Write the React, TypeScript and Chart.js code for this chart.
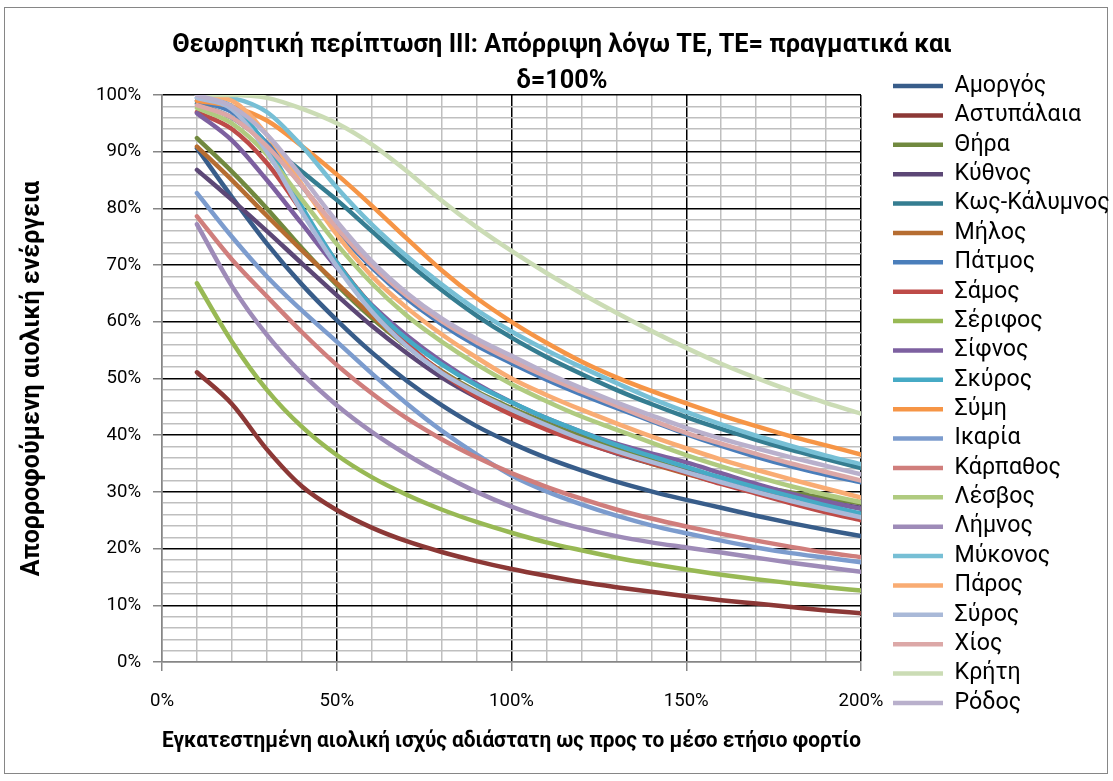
import { useEffect, useRef } from 'react';
import { Chart, registerables } from 'chart.js';

Chart.register(...registerables);

const FONT = 'Roboto, "Liberation Sans", sans-serif';

const chartTitle = ['Θεωρητική περίπτωση III: Απόρριψη λόγω ΤΕ, ΤΕ= πραγματικά και', 'δ=100%'];
const yTitle = 'Απορροφούμενη αιολική ενέργεια';
const xTitle = 'Εγκατεστημένη αιολική ισχύς αδιάστατη ως προς το μέσο ετήσιο φορτίο';

const xValues = [10, 20, 30, 40, 50, 60, 70, 80, 90, 100, 110, 120, 130, 140, 150, 160, 170, 180, 190, 200];
const xMajorTicks = [0, 50, 100, 150, 200];
const yMajorTicks = [0, 10, 20, 30, 40, 50, 60, 70, 80, 90, 100];

const seriesNames = [
  'Αμοργός', 'Αστυπάλαια', 'Θήρα', 'Κύθνος', 'Κως-Κάλυμνος', 'Μήλος', 'Πάτμος', 'Σάμος',
  'Σέριφος', 'Σίφνος', 'Σκύρος', 'Σύμη', 'Ικαρία', 'Κάρπαθος', 'Λέσβος', 'Λήμνος',
  'Μύκονος', 'Πάρος', 'Σύρος', 'Χίος', 'Κρήτη', 'Ρόδος',
];

const seriesColors = [
  '#385D8A', '#8C3836', '#71893F', '#5C4776', '#357D91', '#B66D31', '#4A7EBB', '#BE4B48',
  '#98B954', '#7D60A0', '#46AAC5', '#F69546', '#7C9CCE', '#D07E7C', '#B0CB80', '#9E8BB8',
  '#77BFD5', '#F9AC73', '#A9B9D8', '#DCA8A7', '#CBDCB5', '#B9B0CC',
];

const amorgos = [90.6, 82, 73.8, 66.6, 60.3, 54.6, 49.6, 45.3, 41.6, 38.6, 36, 33.8, 31.8, 30.1, 28.6, 27.2, 25.8, 24.5, 23.3, 22.2];
const astypalaia = [51.1, 45.5, 37.5, 31, 26.8, 23.7, 21.3, 19.4, 17.8, 16.4, 15.2, 14.1, 13.2, 12.4, 11.6, 10.9, 10.3, 9.7, 9.1, 8.6];
const thira = [92.4, 86.5, 80, 73, 66.5, 60.7, 55.7, 51.3, 47.7, 44.8, 42.2, 39.8, 37.6, 35.6, 33.7, 32.3, 31, 29.9, 28.9, 28];
const kythnos = [86.8, 81.5, 76, 70.3, 64.7, 59.3, 54.5, 50.2, 46.7, 43.8, 41.2, 38.9, 36.8, 35, 33.5, 32, 30.6, 29.3, 28.2, 27.2];
const kos = [98.5, 96, 91.5, 86.5, 81.5, 76, 70.6, 65.6, 61.1, 57.2, 53.8, 50.8, 48, 45.5, 43.2, 41.1, 39.2, 37.4, 35.8, 34.2];
const milos = [90.9, 85, 78.7, 72.6, 66.8, 61.1, 55.8, 51.2, 47.5, 44.5, 41.7, 39.3, 37, 35, 33.2, 31.5, 29.9, 28.4, 26.8, 25.3];
const patmos = [99, 97, 91.5, 84, 76.2, 69.6, 64.1, 59.6, 55.8, 52.7, 49.8, 47.2, 44.8, 42.5, 40.2, 38.1, 36.2, 34.5, 33, 31.7];
const samos = [97, 94, 88, 79.5, 70.5, 62.8, 56.3, 51, 46.8, 43.6, 41, 38.8, 36.9, 35.1, 33.3, 31.4, 29.7, 28, 26.4, 25];
const serifos = [66.8, 56.5, 48, 41.5, 36.5, 32.6, 29.5, 26.9, 24.7, 22.8, 21.1, 19.7, 18.4, 17.3, 16.3, 15.4, 14.6, 13.9, 13.2, 12.6];
const sifnos = [96.8, 92, 85, 77.3, 69.6, 63, 57.6, 53, 49.1, 45.8, 43, 40.6, 38.5, 36.8, 35.2, 33.3, 31.4, 29.7, 28.3, 27];
const skyros = [99.5, 98, 91, 80.3, 70.5, 62.8, 57, 52.5, 48.8, 45.8, 43, 40.6, 38.3, 36.3, 34.4, 32.5, 30.8, 29.2, 27.6, 26.2];
const symi = [99, 98, 95.5, 91, 86, 80.5, 74.7, 69.1, 64.2, 60, 56.3, 53, 50.2, 47.8, 45.6, 43.5, 41.6, 39.8, 38.2, 36.6];
const ikaria = [82.7, 75, 68, 62, 56.5, 50.9, 45.6, 40.8, 36.6, 32.9, 30.1, 27.8, 25.8, 24.1, 22.7, 21.4, 20.2, 19.2, 18.4, 17.6];
const karpathos = [78.6, 71, 64.5, 58.2, 52.4, 47.4, 43, 39.3, 36.1, 33.3, 30.9, 28.8, 26.9, 25.3, 23.9, 22.6, 21.4, 20.3, 19.3, 18.5];
const lesvos = [97.7, 95, 89.5, 81.6, 73.7, 66.8, 61.1, 56.5, 52.5, 49, 46, 43.3, 41, 38.7, 36.5, 34.5, 32.7, 31, 29.5, 28.2];
const limnos = [77.2, 66.3, 57.7, 50.9, 45.3, 40.6, 36.6, 33.1, 30, 27.4, 25.3, 23.6, 22.2, 21.1, 20.2, 19.3, 18.4, 17.5, 16.7, 15.9];
const mykonos = [100, 99.5, 97, 91, 83.7, 77.2, 71.6, 66.6, 62.1, 58.3, 55, 52, 49.2, 46.5, 44.1, 41.9, 39.9, 38.1, 36.4, 34.9];
const paros = [100, 99, 93, 84.2, 75.4, 68.1, 62.5, 57.8, 53.7, 50, 47.1, 44.5, 42.1, 39.8, 37.7, 35.7, 33.9, 32.2, 30.6, 29];
const syros = [99.5, 97.5, 90, 79.4, 69.8, 61.8, 55.7, 51, 47.5, 44.5, 41.8, 39.3, 37.2, 35.3, 33.5, 31.7, 30, 28.4, 26.9, 25.5];
const chios = [98.2, 96, 91, 84, 76.6, 70, 64.6, 60.1, 56.4, 53.2, 50.3, 47.7, 45.2, 42.7, 40.4, 38.5, 36.7, 35, 33.5, 32];
const kriti = [100, 100, 99.5, 97.6, 95, 91.3, 86.6, 81.4, 76.7, 72.5, 68.6, 65, 61.6, 58.4, 55.4, 52.6, 50.1, 47.8, 45.7, 43.8];
const rodos = [100, 98, 93, 85.6, 77.7, 70.7, 65.1, 60.6, 57, 54, 51, 48.3, 45.8, 43.5, 41.3, 39.4, 37.7, 36.1, 34.6, 33.1];

const seriesValues = [
  amorgos, astypalaia, thira, kythnos, kos, milos, patmos, samos, serifos, sifnos, skyros,
  symi, ikaria, karpathos, lesvos, limnos, mykonos, paros, syros, chios, kriti, rodos,
];

function fitSize(text: string, weight: string, target: number): number {
  const c = document.createElement('canvas').getContext('2d') as CanvasRenderingContext2D;
  c.font = `${weight} 100px ${FONT}`;
  const w = c.measureText(text).width;
  return Math.round((target / w) * 1000) / 10;
}

export default function App() {
  const ref = useRef<HTMLCanvasElement | null>(null);

  useEffect(() => {
    document.body.style.margin = '0';
    const canvas = ref.current;
    if (!canvas) return;

    const fsTitle = fitSize(chartTitle[0], 'bold', 780);
    const fsTick = fitSize('100%', 'normal', 45);
    const fsLegend = fitSize('Κως-Κάλυμνος', 'normal', 155);
    const fsYTitle = fitSize(yTitle, 'bold', 395);
    const fsXTitle = fitSize(xTitle, 'bold', 755);
    const legPad = 29.37 - fsLegend;

    const datasets = seriesNames.map((name, i) => ({
      label: name,
      data: xValues.map((x, j) => ({ x, y: seriesValues[i][j] })),
      borderColor: seriesColors[i],
      backgroundColor: seriesColors[i],
      borderWidth: 4.5,
      borderCapStyle: 'round' as const,
      borderJoinStyle: 'round' as const,
      pointRadius: 0,
      pointHoverRadius: 0,
      cubicInterpolationMode: 'monotone' as const,
      fill: false,
      order: -i,
    }));

    const framePlugin = {
      id: 'frame',
      beforeDraw(chart: Chart) {
        const { ctx, width, height } = chart;
        ctx.save();
        ctx.fillStyle = '#ffffff';
        ctx.fillRect(0, 0, width, height);
        ctx.strokeStyle = '#868686';
        ctx.lineWidth = 1;
        ctx.strokeRect(4.5, 7.5, 1103, 766);
        ctx.restore();
      },
    };

    const chart = new Chart(canvas, {
      type: 'line',
      data: { datasets },
      plugins: [framePlugin],
      options: {
        responsive: false,
        animation: false,
        devicePixelRatio: 1,
        layout: { padding: { left: 12, right: 1, top: 10, bottom: 2 } },
        plugins: {
          tooltip: { enabled: false },
          title: {
            display: true,
            text: chartTitle,
            color: '#000',
            font: { family: FONT, size: fsTitle, weight: 'bold', lineHeight: '36px' },
            padding: { top: 18, bottom: -5 },
          },
          legend: {
            display: true,
            position: 'right',
            align: 'center',
            maxWidth: 219 + legPad,
            labels: {
              usePointStyle: true,
              pointStyle: 'line',
              pointStyleWidth: 50,
              padding: legPad,
              color: '#000',
              font: { family: FONT, size: fsLegend },
              sort: (a: any, b: any) => a.datasetIndex - b.datasetIndex,
            },
          },
        },
        scales: {
          x: {
            type: 'linear',
            min: 0,
            max: 200,
            afterFit: (s: any) => { s.height = 117; },
            ticks: {
              stepSize: 10,
              autoSkip: false,
              maxRotation: 0,
              padding: 19,
              color: '#000',
              font: { family: FONT, size: fsTick },
              callback: (v: any) => (xMajorTicks.includes(Number(v)) ? `${v}%` : ''),
            },
            grid: {
              lineWidth: 1.5,
              tickLength: 9,
              color: (ctx: any) => (ctx.tick && ctx.tick.value === 0 ? '#868686' : ctx.tick && ctx.tick.value % 50 === 0 ? '#000000' : '#BFBFBF'),
              tickColor: (ctx: any) => (ctx.tick && ctx.tick.value % 50 === 0 ? '#868686' : 'rgba(0,0,0,0)'),
            },
            border: { color: '#868686', width: 1.5 },
            title: {
              display: true,
              text: xTitle,
              color: '#000',
              font: { family: FONT, size: fsXTitle, weight: 'bold', lineHeight: '24px' },
              padding: { top: 0, bottom: 26 },
            },
          },
          y: {
            type: 'linear',
            min: 0,
            max: 100,
            afterFit: (s: any) => { s.width = 150; },
            ticks: {
              stepSize: 2,
              autoSkip: false,
              padding: 12,
              color: '#000',
              font: { family: FONT, size: fsTick },
              callback: (v: any) => (yMajorTicks.includes(Number(v)) ? `${v}%` : ''),
            },
            grid: {
              lineWidth: 1.5,
              tickLength: 9,
              color: (ctx: any) => (ctx.tick && ctx.tick.value === 0 ? '#868686' : ctx.tick && ctx.tick.value % 10 === 0 ? '#000000' : '#BFBFBF'),
              tickColor: (ctx: any) => (ctx.tick && ctx.tick.value % 10 === 0 ? '#868686' : 'rgba(0,0,0,0)'),
            },
            border: { color: '#868686', width: 1.5 },
            title: {
              display: true,
              text: yTitle,
              color: '#000',
              font: { family: FONT, size: fsYTitle, weight: 'bold', lineHeight: '24px' },
              padding: { top: 9, bottom: 0 },
            },
          },
          y2: {
            type: 'linear',
            position: 'right',
            display: true,
            afterFit: (s: any) => { s.width = 32 - legPad; },
            grid: { display: false, drawTicks: false },
            border: { display: false },
            ticks: { display: false },
          },
        },
      } as any,
    });

    return () => chart.destroy();
  }, []);

  return (
    <div style={{ width: 1113, height: 781, position: 'relative' }}>
      <canvas ref={ref} width={1113} height={781} style={{ display: 'block' }} />
    </div>
  );
}
